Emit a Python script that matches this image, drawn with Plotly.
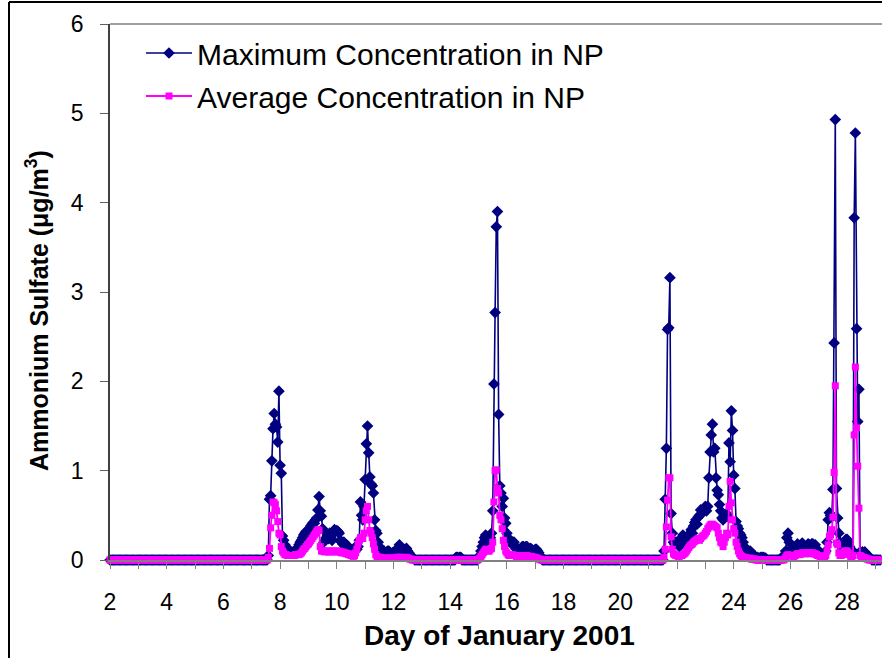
import numpy as np
import plotly.graph_objects as go

# Hourly ammonium sulfate (ug/m3), one line per day, Jan 2 00h .. Jan 29 04h
max_conc = [
    0, 0, 0, 0, 0, 0, 0, 0, 0, 0, 0, 0, 0, 0, 0, 0, 0, 0, 0, 0, 0, 0, 0, 0,  # 2
    0, 0, 0, 0, 0, 0, 0, 0, 0, 0, 0, 0, 0, 0, 0, 0, 0, 0, 0, 0, 0, 0, 0, 0,  # 3
    0, 0, 0, 0, 0, 0, 0, 0, 0, 0, 0, 0, 0, 0, 0, 0, 0, 0, 0, 0, 0, 0, 0, 0,  # 4
    0, 0, 0, 0, 0, 0, 0, 0, 0, 0, 0, 0, 0, 0, 0, 0, 0, 0, 0, 0, 0, 0, 0, 0,  # 5
    0, 0, 0, 0, 0, 0, 0, 0, 0, 0, 0, 0, 0, 0, 0, 0, 0, 0, 0, 0, 0, 0, 0, 0,  # 6
    0, 0, 0, 0, 0, 0, 0, 0, 0, 0, 0, 0, 0, 0, 0.05, 0.68, 0.72, 1.11, 1.47, 1.64, 1.52, 1.49, 1.32, 1.89,  # 7
    1.06, 0.97, 0.27, 0.22, 0.17, 0.15, 0.12, 0.1, 0.09, 0.09, 0.08, 0.09, 0.09, 0.1, 0.12, 0.14, 0.17, 0.2, 0.22, 0.25, 0.28, 0.3, 0.32, 0.3,  # 8
    0.32, 0.35, 0.38, 0.4, 0.42, 0.41, 0.45, 0.47, 0.56, 0.71, 0.55, 0.49, 0.35, 0.2, 0.22, 0.25, 0.28, 0.24, 0.3, 0.25, 0.22, 0.3, 0.34, 0.32,  # 9
    0.33, 0.32, 0.3, 0.22, 0.2, 0.18, 0.2, 0.15, 0.17, 0.16, 0.12, 0.1, 0.1, 0.1, 0.1, 0.12, 0.15, 0.12, 0.15, 0.22, 0.65, 0.5, 0.45, 0.6,  # 10
    0.9, 1.3, 1.5, 1.2, 0.93, 0.85, 0.83, 0.75, 0.45, 0.33, 0.3, 0.2, 0.15, 0.12, 0.1, 0.1, 0.1, 0.08, 0.08, 0.1, 0.1, 0.08, 0.07, 0.08,  # 11
    0.08, 0.1, 0.08, 0.1, 0.12, 0.17, 0.12, 0.1, 0.08, 0.1, 0.12, 0.13, 0.1, 0.08, 0.05, 0.04, 0.03, 0.02, 0, 0, 0, 0, 0, 0,  # 12
    0, 0, 0, 0, 0, 0, 0, 0, 0, 0, 0, 0, 0, 0, 0, 0, 0, 0, 0, 0, 0, 0, 0, 0,  # 13
    0, 0, 0, 0, 0, 0.03, 0.03, 0.02, 0.03, 0.03, 0, 0, 0, 0, 0, 0, 0, 0, 0, 0, 0, 0, 0, 0,  # 14
    0.02, 0.05, 0.1, 0.15, 0.2, 0.25, 0.28, 0.22, 0.2, 0.22, 0.25, 0.3, 0.55, 1.97, 2.77, 3.73, 3.9, 1.63, 0.83, 0.75, 0.6, 0.69, 0.47, 0.41,  # 15
    0.3, 0.25, 0.22, 0.2, 0.18, 0.2, 0.2, 0.15, 0.12, 0.12, 0.12, 0.1, 0.12, 0.15, 0.15, 0.14, 0.15, 0.15, 0.12, 0.12, 0.13, 0.12, 0.1, 0.1,  # 16
    0.12, 0.12, 0.1, 0.08, 0.05, 0.02, 0, 0, 0, 0, 0, 0, 0, 0, 0, 0, 0, 0, 0, 0, 0, 0, 0, 0,  # 17
    0, 0, 0, 0, 0, 0, 0, 0, 0, 0, 0, 0, 0, 0, 0, 0, 0, 0, 0, 0, 0, 0, 0, 0,  # 18
    0, 0, 0, 0, 0, 0, 0, 0, 0, 0, 0, 0, 0, 0, 0, 0, 0, 0, 0, 0, 0, 0, 0, 0,  # 19
    0, 0, 0, 0, 0, 0, 0, 0, 0, 0, 0, 0, 0, 0, 0, 0, 0, 0, 0, 0, 0, 0, 0, 0,  # 20
    0, 0, 0, 0, 0, 0, 0, 0, 0, 0, 0, 0, 0, 0.1, 0.68, 1.25, 2.58, 2.6, 3.16, 0.52, 0.3, 0.2, 0.18, 0.2,  # 21
    0.2, 0.18, 0.15, 0.2, 0.25, 0.28, 0.2, 0.18, 0.2, 0.22, 0.25, 0.3, 0.34, 0.3, 0.38, 0.42, 0.45, 0.4, 0.48, 0.5, 0.56, 0.52, 0.55, 0.58,  # 22
    0.6, 0.55, 0.6, 0.92, 1.21, 1.4, 1.52, 1.21, 1.25, 0.92, 0.78, 0.73, 0.62, 0.55, 0.47, 0.45, 0.5, 0.48, 0.52, 0.49, 1.31, 1.1, 1.67, 1.45,  # 23
    0.95, 0.8, 0.43, 0.38, 0.35, 0.3, 0.28, 0.25, 0.2, 0.15, 0.12, 0.1, 0.1, 0.08, 0.1, 0.08, 0.06, 0.05, 0.04, 0.03, 0.03, 0.02, 0.02, 0.03,  # 24
    0.03, 0.03, 0.02, 0.02, 0, 0, 0, 0, 0, 0, 0, 0, 0, 0, 0, 0, 0.02, 0.03, 0.03, 0.05, 0.1, 0.25, 0.3, 0.2,  # 25
    0.12, 0.1, 0.08, 0.1, 0.12, 0.15, 0.18, 0.15, 0.12, 0.15, 0.19, 0.17, 0.15, 0.14, 0.16, 0.18, 0.17, 0.15, 0.18, 0.18, 0.15, 0.17, 0.13, 0.1,  # 26
    0.1, 0.08, 0.06, 0.06, 0.05, 0.08, 0.1, 0.2, 0.45, 0.53, 0.5, 0.48, 0.79, 2.43, 4.93, 0.8, 0.47, 0.3, 0.2, 0.15, 0.12, 0.15, 0.2, 0.23,  # 27
    0.23, 0.2, 0.15, 0.1, 0.08, 0.1, 3.83, 4.78, 2.59, 1.55, 1.91, 0.09, 0.08, 0.09, 0.08, 0.09, 0.07, 0.05, 0.04, 0.03, 0.02, 0, 0, 0,  # 28
    0, 0, 0, 0, 0,  # 29
]

avg_conc = [
    0, 0, 0, 0, 0, 0, 0, 0, 0, 0, 0, 0, 0, 0, 0, 0, 0, 0, 0, 0, 0, 0, 0, 0,  # 2
    0, 0, 0, 0, 0, 0, 0, 0, 0, 0, 0, 0, 0, 0, 0, 0, 0, 0, 0, 0, 0, 0, 0, 0,  # 3
    0, 0, 0, 0, 0, 0, 0, 0, 0, 0, 0, 0, 0, 0, 0, 0, 0, 0, 0, 0, 0, 0, 0, 0,  # 4
    0, 0, 0, 0, 0, 0, 0, 0, 0, 0, 0, 0, 0, 0, 0, 0, 0, 0, 0, 0, 0, 0, 0, 0,  # 5
    0, 0, 0, 0, 0, 0, 0, 0, 0, 0, 0, 0, 0, 0, 0, 0, 0, 0, 0, 0, 0, 0, 0, 0,  # 6
    0, 0, 0, 0, 0, 0, 0, 0, 0, 0, 0, 0, 0, 0, 0.03, 0.13, 0.36, 0.5, 0.65, 0.64, 0.62, 0.55, 0.43, 0.3,  # 7
    0.28, 0.15, 0.1, 0.08, 0.06, 0.06, 0.05, 0.05, 0.05, 0.05, 0.05, 0.05, 0.05, 0.06, 0.06, 0.06, 0.06, 0.07, 0.08, 0.1, 0.12, 0.13, 0.15, 0.17,  # 8
    0.18, 0.2, 0.22, 0.24, 0.26, 0.28, 0.3, 0.32, 0.34, 0.33, 0.15, 0.1, 0.1, 0.1, 0.09, 0.1, 0.1, 0.09, 0.1, 0.09, 0.1, 0.1, 0.09, 0.1,  # 9
    0.1, 0.09, 0.1, 0.09, 0.08, 0.09, 0.08, 0.08, 0.07, 0.07, 0.06, 0.07, 0.05, 0.05, 0.04, 0.05, 0.08, 0.12, 0.18, 0.22, 0.25, 0.25, 0.24, 0.3,  # 10
    0.45, 0.55, 0.6, 0.45, 0.33, 0.3, 0.25, 0.18, 0.12, 0.06, 0.04, 0.03, 0.03, 0.03, 0.02, 0.02, 0.02, 0.02, 0.02, 0.02, 0.02, 0.02, 0.02, 0.02,  # 11
    0.02, 0.02, 0.02, 0.03, 0.03, 0.03, 0.03, 0.02, 0.02, 0.02, 0.03, 0.03, 0.02, 0.02, 0.01, 0.01, 0, 0, 0, 0, 0, 0, 0, 0,  # 12
    0, 0, 0, 0, 0, 0, 0, 0, 0, 0, 0, 0, 0, 0, 0, 0, 0, 0, 0, 0, 0, 0, 0, 0,  # 13
    0, 0, 0, 0, 0, 0, 0, 0, 0, 0, 0, 0, 0, 0, 0, 0, 0, 0, 0, 0, 0, 0, 0, 0,  # 14
    0.01, 0.02, 0.04, 0.06, 0.08, 0.1, 0.12, 0.12, 0.1, 0.1, 0.12, 0.13, 0.2, 0.65, 1.0, 1.01, 0.8, 0.75, 0.5, 0.45, 0.35, 0.22, 0.15, 0.1,  # 15
    0.08, 0.06, 0.05, 0.05, 0.05, 0.06, 0.05, 0.05, 0.04, 0.04, 0.05, 0.04, 0.04, 0.05, 0.05, 0.05, 0.04, 0.05, 0.04, 0.04, 0.04, 0.04, 0.03, 0.03,  # 16
    0.03, 0.02, 0.02, 0.01, 0.01, 0, 0, 0, 0, 0, 0, 0, 0, 0, 0, 0, 0, 0, 0, 0, 0, 0, 0, 0,  # 17
    0, 0, 0, 0, 0, 0, 0, 0, 0, 0, 0, 0, 0, 0, 0, 0, 0, 0, 0, 0, 0, 0, 0, 0,  # 18
    0, 0, 0, 0, 0, 0, 0, 0, 0, 0, 0, 0, 0, 0, 0, 0, 0, 0, 0, 0, 0, 0, 0, 0,  # 19
    0, 0, 0, 0, 0, 0, 0, 0, 0, 0, 0, 0, 0, 0, 0, 0, 0, 0, 0, 0, 0, 0, 0, 0,  # 20
    0, 0, 0, 0, 0, 0, 0, 0, 0, 0, 0, 0, 0, 0.03, 0.12, 0.37, 0.67, 0.92, 0.92, 0.26, 0.12, 0.07, 0.06, 0.05,  # 21
    0.05, 0.04, 0.04, 0.05, 0.05, 0.06, 0.07, 0.08, 0.1, 0.12, 0.14, 0.16, 0.17, 0.18, 0.2, 0.21, 0.22, 0.23, 0.24, 0.22, 0.24, 0.26, 0.27, 0.28,  # 22
    0.3, 0.32, 0.35, 0.37, 0.39, 0.4, 0.4, 0.39, 0.38, 0.37, 0.36, 0.3, 0.25, 0.2, 0.19, 0.15, 0.2, 0.25, 0.3, 0.28, 0.6, 0.88, 0.64, 0.45,  # 23
    0.35, 0.3, 0.2, 0.15, 0.1, 0.07, 0.05, 0.04, 0.03, 0.03, 0.02, 0.02, 0.02, 0.02, 0.02, 0.01, 0.01, 0.01, 0.01, 0, 0, 0, 0, 0,  # 24
    0, 0, 0, 0, 0, 0, 0, 0, 0, 0, 0, 0, 0, 0, 0, 0, 0, 0, 0, 0.01, 0.03, 0.05, 0.06, 0.05,  # 25
    0.05, 0.05, 0.04, 0.04, 0.05, 0.06, 0.07, 0.07, 0.06, 0.07, 0.08, 0.08, 0.07, 0.07, 0.08, 0.08, 0.08, 0.07, 0.08, 0.08, 0.07, 0.07, 0.06, 0.05,  # 26
    0.05, 0.04, 0.03, 0.02, 0.02, 0.03, 0.05, 0.1, 0.17, 0.26, 0.28, 0.34, 0.48, 0.98, 1.95, 0.19, 0.17, 0.08, 0.05, 0.05, 0.06, 0.08, 0.1, 0.1,  # 27
    0.1, 0.08, 0.06, 0.04, 0.03, 0.05, 1.4, 2.16, 1.48, 1.05, 0.58, 0.05, 0.04, 0.03, 0.03, 0.02, 0.02, 0.01, 0.01, 0, 0, 0, 0, 0,  # 28
    0, 0, 0, 0, 0,  # 29
]

start_day = 2
x_tick_vals = [2, 4, 6, 8, 10, 12, 14, 16, 18, 20, 22, 24, 26, 28]
y_tick_vals = [0, 1, 2, 3, 4, 5, 6]
series_names = ["Maximum Concentration in NP", "Average Concentration in NP"]
x_title = "Day of January 2001"
y_title = "Ammonium Sulfate (μg/m<sup>3</sup>)"

day_max = start_day + np.arange(len(max_conc)) / 24.0
day_avg = start_day + np.arange(len(avg_conc)) / 24.0

FONT = "Liberation Sans, Arial, sans-serif"

fig = go.Figure()
fig.add_trace(go.Scatter(
    x=day_max, y=max_conc, mode="lines+markers", name=series_names[0],
    line=dict(color="#000080", width=1.6),
    marker=dict(symbol="diamond", size=9, color="#000080"),
    cliponaxis=False, legendgroup="a",
))
fig.add_trace(go.Scatter(
    x=day_avg, y=avg_conc, mode="lines+markers", name=series_names[1],
    line=dict(color="#FF00FF", width=1.8),
    marker=dict(symbol="square", size=7, color="#FF00FF"),
    cliponaxis=False, legendgroup="b",
))

W, H = 882, 658
L, R, T, B = 110, 0, 24, 98
pw = W - L - R
ph = H - T - B
px_per_day = 28.35
x_end = start_day + pw / px_per_day

def px2paper_x(px):
    return (px - L) / pw

def px2paper_y(py):
    return (H - B - py) / ph

fig.update_layout(
    width=W, height=H, autosize=False,
    margin=dict(l=L, r=R, t=T, b=B, pad=0),
    paper_bgcolor="white", plot_bgcolor="white",
    font=dict(family=FONT, color="black"),
    showlegend=True,
    legend=dict(
        x=px2paper_x(141), y=px2paper_y(27), xanchor="left", yanchor="top",
        font=dict(size=30, family=FONT, color="black"),
        bgcolor="rgba(0,0,0,0)", traceorder="grouped", tracegroupgap=1,
        itemwidth=46,
    ),
    xaxis=dict(
        range=[start_day, x_end], tickmode="array", tickvals=x_tick_vals,
        ticktext=[str(v) for v in x_tick_vals],
        ticks="outside", ticklen=7, tickcolor="#808080", tickwidth=1,
        minor=dict(ticks="outside", dtick=1, tick0=2, ticklen=7, tickcolor="#808080"),
        showline=True, linecolor="#808080", linewidth=1.5,
        showgrid=False, zeroline=False,
        tickfont=dict(size=23, family=FONT, color="black"),
        ticklabelstandoff=14,
    ),
    yaxis=dict(
        range=[0, 6], tickmode="array", tickvals=y_tick_vals,
        ticks="outside", ticklen=8, tickcolor="#606060", tickwidth=1,
        showline=True, linecolor="#404040", linewidth=1.5,
        showgrid=False, zeroline=False,
        tickfont=dict(size=23, family=FONT, color="black"),
        ticklabelstandoff=12,
    ),
)

# axis titles
fig.add_annotation(
    text=x_title, xref="paper", yref="paper",
    x=px2paper_x(499), y=px2paper_y(635), xanchor="center", yanchor="middle",
    showarrow=False, font=dict(size=28, family=FONT, color="black", weight="bold"),
)
fig.add_annotation(
    text=y_title, xref="paper", yref="paper", textangle=-90,
    x=px2paper_x(37), y=px2paper_y(311), xanchor="center", yanchor="middle",
    showarrow=False, font=dict(size=25, family=FONT, color="black", weight="bold"),
)

# plot-area top border and chart-area frame
fig.add_shape(type="line", xref="paper", yref="paper", x0=0, x1=1, y0=1, y1=1,
              line=dict(color="#A0A0A0", width=2), layer="below")
fig.add_shape(type="line", xref="paper", yref="paper",
              x0=px2paper_x(9), x1=px2paper_x(W + 5), y0=px2paper_y(2), y1=px2paper_y(2),
              line=dict(color="black", width=2))
fig.add_shape(type="line", xref="paper", yref="paper",
              x0=px2paper_x(9), x1=px2paper_x(9), y0=px2paper_y(2), y1=px2paper_y(H + 5),
              line=dict(color="black", width=2))

fig.write_html("out.html")
